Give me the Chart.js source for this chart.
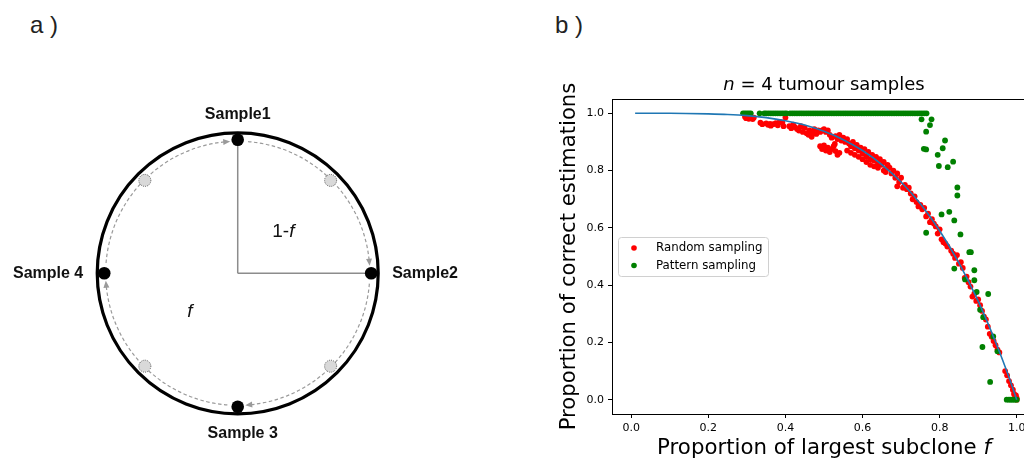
<!DOCTYPE html>
<html>
<head>
<meta charset="utf-8">
<script src="https://cdn.jsdelivr.net/npm/chart.js@4.4.1/dist/chart.umd.min.js"></script>
<style>
html, body { margin: 0; padding: 0; background: #fff; }
body { width: 1024px; height: 462px; overflow: hidden; position: relative; font-family: "Liberation Sans", Arial, sans-serif; }
#panelA { position: absolute; left: 0; top: 0; }
#panelB { position: absolute; left: 540px; top: 60px; }
.tag { position: absolute; font-size: 24px; color: #222; }
</style>
</head>
<body>
<div class="tag" style="left:30px;top:11px">a )</div>
<div class="tag" style="left:555px;top:11px">b )</div>
<canvas id="panelA" width="480" height="462"></canvas>
<canvas id="panelB" width="500" height="402"></canvas>
<script>
// ---- panel a : sampling diagram ----
const sampleNames = ['Sample1', 'Sample2', 'Sample 3', 'Sample 4'];
const sampleAngles = [90, 0, 270, 180];   // degrees, anticlockwise from east
const midAngles = [45, 315, 225, 135];

// ---- panel b : data ----
const tickValues = [0.0, 0.2, 0.4, 0.6, 0.8, 1.0];
const curveF = [0.01, 0.1, 0.2, 0.25, 0.3, 0.35, 0.4, 0.45, 0.5, 0.55, 0.6, 0.65, 0.7, 0.75, 0.8, 0.85, 0.9, 0.95, 0.98, 1.0];
const curveP = [1.0, 1.0, 0.998, 0.996, 0.992, 0.985, 0.974, 0.959, 0.937, 0.908, 0.870, 0.821, 0.760, 0.684, 0.590, 0.478, 0.344, 0.185, 0.078, 0.0];

const randomSampling = [
  [0.295,0.988],[0.298,0.983],[0.302,0.986],[0.305,0.981],[0.31,0.984],[0.315,0.98],[0.318,0.985],
  [0.335,0.967],[0.34,0.962],[0.35,0.965],[0.355,0.96],[0.36,0.963],[0.362,0.957],[0.368,0.962],
  [0.375,0.966],[0.38,0.958],[0.385,0.97],[0.392,0.968],[0.40,0.985],[0.395,0.955],
  [0.41,0.955],[0.415,0.948],[0.42,0.96],[0.425,0.952],[0.43,0.945],[0.435,0.94],[0.44,0.955],
  [0.445,0.935],[0.45,0.95],[0.455,0.93],[0.46,0.925],[0.462,0.94],[0.468,0.918],[0.47,0.932],
  [0.475,0.945],[0.48,0.928],[0.485,0.94],[0.49,0.935],[0.495,0.94],[0.50,0.945],[0.505,0.935],
  [0.51,0.94],[0.515,0.925],[0.52,0.915],
  [0.49,0.885],[0.495,0.875],[0.50,0.888],[0.505,0.87],[0.51,0.88],[0.515,0.865],[0.52,0.875],
  [0.525,0.885],[0.53,0.868],[0.535,0.855],[0.54,0.862],[0.528,0.893],
  [0.53,0.92],[0.535,0.91],[0.54,0.925],[0.545,0.905],[0.55,0.915],[0.555,0.9],[0.56,0.91],
  [0.565,0.895],[0.57,0.885],[0.575,0.9],[0.58,0.878],[0.585,0.89],[0.59,0.87],[0.595,0.88],
  [0.56,0.87],[0.57,0.862],[0.58,0.855],[0.59,0.848],[0.60,0.86],[0.605,0.875],[0.61,0.85],
  [0.615,0.865],[0.62,0.84],[0.625,0.855],[0.63,0.835],[0.635,0.848],[0.64,0.825],[0.645,0.84],
  [0.65,0.82],[0.655,0.83],[0.66,0.805],[0.665,0.82],[0.60,0.84],[0.61,0.83],[0.62,0.82],
  [0.63,0.815],[0.64,0.81],[0.655,0.80],[0.66,0.795],[0.67,0.81],[0.675,0.79],[0.68,0.80],
  [0.685,0.775],[0.69,0.79],[0.695,0.76],[0.70,0.775],[0.69,0.745],[0.705,0.74],[0.71,0.75],
  [0.715,0.735],[0.72,0.74],[0.725,0.72],[0.73,0.70],[0.735,0.71],[0.74,0.69],[0.745,0.675],
  [0.75,0.68],[0.755,0.665],[0.76,0.67],[0.765,0.64],[0.77,0.65],[0.775,0.62],[0.78,0.63],
  [0.785,0.615],[0.79,0.605],[0.795,0.58],[0.80,0.595],[0.805,0.56],[0.81,0.55],[0.815,0.545],
  [0.82,0.535],[0.83,0.52],[0.835,0.51],[0.84,0.495],[0.845,0.505],[0.85,0.475],[0.855,0.48],
  [0.86,0.46],[0.865,0.425],[0.87,0.43],[0.875,0.41],[0.88,0.395],[0.885,0.36],[0.89,0.37],
  [0.895,0.345],[0.90,0.35],[0.905,0.33],[0.91,0.31],[0.915,0.29],[0.92,0.28],[0.925,0.255],
  [0.93,0.23],[0.935,0.22],[0.94,0.205],[0.945,0.19],[0.95,0.175],[0.955,0.165],[0.97,0.10],
  [0.975,0.085],[0.98,0.065],[0.985,0.05],[0.99,0.035],[0.993,0.02],[0.996,0.01],[1.0,0.005],
  [1.0,0.0],[0.998,0.015]
];

const patternSampling = [
  [0.29,1],[0.295,1],[0.30,1],[0.305,1],[0.31,1],[0.333,1],[0.345,1],[0.35,1],[0.356,1],[0.362,1],
  [0.368,1],[0.374,1],[0.38,1],[0.386,1],[0.392,1],[0.398,1],[0.403,1],[0.412,1],[0.418,1],[0.424,1],
  [0.43,1],[0.436,1],[0.442,1],[0.448,1],[0.454,1],[0.46,1],[0.466,1],[0.472,1],[0.478,1],[0.484,1],
  [0.49,1],[0.496,1],[0.502,1],[0.508,1],[0.514,1],[0.52,1],[0.526,1],[0.532,1],[0.538,1],[0.544,1],
  [0.55,1],[0.556,1],[0.562,1],[0.568,1],[0.574,1],[0.58,1],[0.586,1],[0.592,1],[0.598,1],[0.604,1],
  [0.61,1],[0.616,1],[0.622,1],[0.628,1],[0.634,1],[0.64,1],[0.646,1],[0.652,1],[0.658,1],[0.664,1],
  [0.67,1],[0.676,1],[0.682,1],[0.688,1],[0.694,1],[0.70,1],[0.706,1],[0.712,1],[0.718,1],[0.724,1],
  [0.73,1],[0.736,1],[0.742,1],[0.748,1],[0.754,1],[0.76,1],[0.766,1],
  [0.753,0.979],[0.775,0.959],[0.779,0.979],[0.765,0.936],[0.759,0.876],[0.765,0.874],
  [0.795,0.855],[0.808,0.878],[0.814,0.905],[0.798,0.816],[0.821,0.812],[0.835,0.831],
  [0.846,0.741],[0.846,0.713],[0.765,0.583],[0.805,0.647],[0.825,0.656],[0.838,0.626],
  [0.854,0.577],[0.877,0.515],[0.881,0.515],[0.838,0.458],[0.890,0.452],[0.890,0.417],
  [0.866,0.42],[0.896,0.376],[0.926,0.369],[0.905,0.314],[0.913,0.288],[0.911,0.184],
  [0.939,0.221],[0.950,0.169],[0.931,0.062],[0.974,0],[0.98,0],[0.985,0],[0.99,0],[0.995,0],[1.0,0]
];

const toXY = pts => pts.map(p => ({ x: p[0], y: p[1] }));
const rad = d => d * Math.PI / 180;
const polar = (a, r) => ({ x: r * Math.cos(rad(a)), y: r * Math.sin(rad(a)) });

// Draw a string made of normal / italic parts
function drawParts(ctx, parts, x, y, size, family, align) {
  let total = 0;
  const widths = parts.map(p => {
    ctx.font = (p.it ? 'italic ' : '') + size + 'px ' + family;
    const w = ctx.measureText(p.t).width;
    total += w;
    return w;
  });
  let cx = align === 'center' ? x - total / 2 : (align === 'right' ? x - total : x);
  ctx.textAlign = 'left';
  ctx.textBaseline = 'middle';
  parts.forEach((p, i) => {
    ctx.font = (p.it ? 'italic ' : '') + size + 'px ' + family;
    ctx.fillText(p.t, cx, y);
    cx += widths[i];
  });
}

// ---------- panel a ----------
const clockPlugin = {
  id: 'clockPlugin',
  beforeDatasetsDraw(chart) {
    const ctx = chart.ctx;
    const sx = chart.scales.x, sy = chart.scales.y;
    const cx = sx.getPixelForValue(0), cy = sy.getPixelForValue(0);
    const unit = sx.getPixelForValue(1) - cx;
    ctx.save();
    // outer ring
    ctx.beginPath();
    ctx.arc(cx, cy, unit, 0, Math.PI * 2);
    ctx.lineWidth = 3.2;
    ctx.strokeStyle = '#000';
    ctx.stroke();
    // radii to Sample1 and Sample2
    ctx.strokeStyle = '#8c8c8c';
    ctx.lineWidth = 1.5;
    [sampleAngles[0], sampleAngles[1]].forEach(a => {
      const p = polar(a, 0.95);
      ctx.beginPath();
      ctx.moveTo(cx, cy);
      ctx.lineTo(sx.getPixelForValue(p.x), sy.getPixelForValue(p.y));
      ctx.stroke();
    });
    // dashed arcs with arrowheads, clockwise from each sample to the next
    const r = 0.94 * unit;
    ctx.strokeStyle = '#9a9a9a';
    ctx.fillStyle = '#9a9a9a';
    ctx.lineWidth = 1.2;
    sampleAngles.forEach(a => {
      const start = rad(-a + 4.5);
      const end = rad(-a + 90 - 5);
      ctx.setLineDash([3.5, 2.5]);
      ctx.beginPath();
      ctx.arc(cx, cy, r, start, end, false);
      ctx.stroke();
      ctx.setLineDash([]);
      const ex = cx + r * Math.cos(end), ey = cy + r * Math.sin(end);
      const tx = -Math.sin(end), ty = Math.cos(end);
      const nx = -ty, ny = tx;
      ctx.beginPath();
      ctx.moveTo(ex + tx * 4, ey + ty * 4);
      ctx.lineTo(ex - tx * 3 + nx * 3, ey - ty * 3 + ny * 3);
      ctx.lineTo(ex - tx * 3 - nx * 3, ey - ty * 3 - ny * 3);
      ctx.closePath();
      ctx.fill();
    });
    ctx.restore();
  },
  afterDatasetsDraw(chart) {
    const ctx = chart.ctx;
    const sx = chart.scales.x, sy = chart.scales.y;
    ctx.save();
    // dotted outline for the intermediate positions
    chart.getDatasetMeta(1).data.forEach(pt => {
      ctx.beginPath();
      ctx.setLineDash([1, 1]);
      ctx.arc(pt.x, pt.y, 6, 0, Math.PI * 2);
      ctx.strokeStyle = '#555';
      ctx.lineWidth = 1;
      ctx.stroke();
    });
    ctx.setLineDash([]);
    // sample labels
    ctx.fillStyle = '#111';
    ctx.font = 'bold 16px "Liberation Sans", Arial, sans-serif';
    ctx.textBaseline = 'middle';
    chart.getDatasetMeta(0).data.forEach((pt, i) => {
      const c = Math.round(Math.cos(rad(sampleAngles[i]))), s = Math.round(Math.sin(rad(sampleAngles[i])));
      ctx.textAlign = c > 0 ? 'left' : (c < 0 ? 'right' : 'center');
      ctx.fillText(sampleNames[i], pt.x + c * 21 + (s < 0 ? 5 : 0), pt.y - s * (s > 0 ? 25 : 27));
    });
    // region labels
    ctx.fillStyle = '#111';
    drawParts(ctx, [{ t: '1-', it: false }, { t: 'f', it: true }],
      sx.getPixelForValue(0.325), sy.getPixelForValue(0.295), 19, '"Liberation Sans", Arial, sans-serif', 'center');
    drawParts(ctx, [{ t: 'f', it: true }],
      sx.getPixelForValue(-0.34), sy.getPixelForValue(-0.27), 19, '"Liberation Sans", Arial, sans-serif', 'center');
    ctx.restore();
  }
};

new Chart(document.getElementById('panelA'), {
  type: 'scatter',
  data: {
    datasets: [
      {
        label: 'Samples',
        data: sampleAngles.map(a => polar(a, 0.95)),
        backgroundColor: '#000',
        borderWidth: 0,
        pointRadius: 6.3,
      },
      {
        label: 'Intermediate',
        data: midAngles.map(a => polar(a, 0.935)),
        backgroundColor: '#d9d9d9',
        borderWidth: 0,
        pointRadius: 5.8,
      },
    ],
  },
  options: {
    responsive: false,
    animation: false,
    events: [],
    layout: { padding: 0, autoPadding: false },
    scales: {
      x: { type: 'linear', min: -1.692, max: 1.7245, display: false },
      y: { type: 'linear', min: -1.343, max: 1.945, display: false },
    },
    plugins: { legend: { display: false }, tooltip: { enabled: false } },
  },
  plugins: [clockPlugin],
});

// ---------- panel b ----------
const MPL = '"DejaVu Sans", sans-serif';

const framePlugin = {
  id: 'framePlugin',
  afterDraw(chart) {
    const ctx = chart.ctx;
    const a = chart.chartArea;
    ctx.save();
    ctx.strokeStyle = '#000';
    ctx.lineWidth = 1;
    ctx.strokeRect(Math.round(a.left) + 0.5, Math.round(a.top) + 0.5, Math.round(a.right - a.left), Math.round(a.bottom - a.top));
    ctx.fillStyle = '#000';
    const midX = (a.left + a.right) / 2;
    // title
    drawParts(ctx, [{ t: 'n', it: true }, { t: ' = 4 tumour samples', it: false }], midX, a.top - 14, 18, MPL, 'center');
    // x title
    drawParts(ctx, [{ t: 'Proportion of largest subclone ', it: false }, { t: 'f', it: true }], midX, a.bottom + 34, 21.3, MPL, 'center');
    // y title
    ctx.save();
    ctx.translate(a.left - 43, (a.top + a.bottom) / 2);
    ctx.rotate(-Math.PI / 2);
    drawParts(ctx, [{ t: 'Proportion of correct estimations', it: false }], 0, 0, 21.2, MPL, 'center');
    ctx.restore();
    // legend
    const lx = a.left + 6, ly = a.top + 138, lw = 150, lh = 39;
    ctx.beginPath();
    ctx.roundRect(lx + 0.5, ly + 0.5, lw, lh, 3);
    ctx.fillStyle = 'rgba(255,255,255,0.8)';
    ctx.fill();
    ctx.strokeStyle = '#d0d0d0';
    ctx.stroke();
    chart.data.datasets.slice(0, 2).forEach((ds, i) => {
      const y = ly + 11 + i * 17.5;
      ctx.beginPath();
      ctx.arc(lx + 16, y, 2.8, 0, Math.PI * 2);
      ctx.fillStyle = ds.backgroundColor;
      ctx.fill();
      ctx.fillStyle = '#000';
      drawParts(ctx, [{ t: ds.label, it: false }], lx + 38, y, 11.8, MPL, 'left');
    });
    ctx.restore();
  }
};

const axisCommon = {
  type: 'linear',
  min: -0.05,
  max: 1.05,
  afterBuildTicks: scale => { scale.ticks = tickValues.map(v => ({ value: v })); },
  ticks: { color: '#000', font: { family: MPL, size: 11 }, padding: 4, callback: v => v.toFixed(1) },
  grid: { display: true, drawOnChartArea: false, drawTicks: true, tickLength: 4, tickColor: '#000', tickWidth: 1 },
  border: { display: false },
};

new Chart(document.getElementById('panelB'), {
  type: 'scatter',
  data: {
    datasets: [
      {
        label: 'Random sampling',
        data: toXY(randomSampling),
        backgroundColor: '#ff0000',
        borderWidth: 0,
        pointRadius: 2.9,
        order: 3,
      },
      {
        label: 'Pattern sampling',
        data: toXY(patternSampling),
        backgroundColor: '#008000',
        borderWidth: 0,
        pointRadius: 2.9,
        order: 2,
      },
      {
        type: 'line',
        label: 'Expected',
        data: curveF.map((f, i) => ({ x: f, y: curveP[i] })),
        borderColor: '#1f77b4',
        borderWidth: 1.6,
        pointRadius: 0,
        cubicInterpolationMode: 'monotone',
        fill: false,
        order: 1,
      },
    ],
  },
  options: {
    responsive: false,
    animation: false,
    events: [],
    layout: { padding: { top: 39, right: 4, left: 0, bottom: 0 }, autoPadding: false },
    scales: {
      x: Object.assign({}, axisCommon, { afterFit: s => { s.height = 48; } }),
      y: Object.assign({}, axisCommon, { afterFit: s => { s.width = 72; } }),
    },
    plugins: { legend: { display: false }, tooltip: { enabled: false } },
  },
  plugins: [framePlugin],
});
</script>
</body>
</html>
